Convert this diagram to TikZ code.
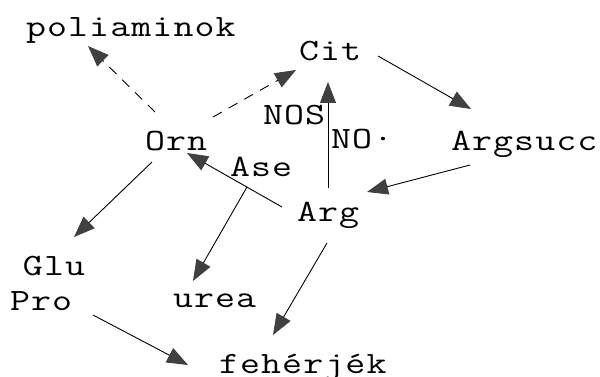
\documentclass[tikz,border=0pt]{standalone}
\usepackage{fontspec}
\usepackage{graphicx}
\usetikzlibrary{arrows.meta}

% wide typewriter labels: letters tracked, then stretched sideways
\newcommand\spacedtext[1]{\spacedloop#1\relax\unkern}
\def\spacedloop#1{\ifx#1\relax\else#1\kern0.9pt\expandafter\spacedloop\fi}
\newcommand\lab[1]{\scalebox{1.25}[1]{\spacedtext{#1}}}

\definecolor{headgray}{gray}{0.25}

\tikzset{
  lbl/.style={anchor=base west, inner sep=0pt, outer sep=0pt,
    font=\ttfamily\fontsize{31}{32}\selectfont},
  conn/.style={line width=0.9pt, black,
    -{Triangle[length=21pt,width=16pt,color=headgray,fill=headgray]}},
  dconn/.style={conn, dash pattern=on 10pt off 8pt},
}

\begin{document}
\begin{tikzpicture}[x=1pt,y=-1pt]
\useasboundingbox (0,0) rectangle (600,377);

% metabolites and enzymes
\node[lbl] (poli) at (26,36.5) {\lab{poliaminok}};
\node[lbl] (cit)  at (299,60.5){\lab{Cit}};
\node[lbl] (orn)  at (145,150) {\lab{Orn}};
\node[lbl] (ase)  at (230,177) {\lab{Ase}};
\node[lbl] (nos)  at (263,125) {\lab{NOS}};
\node[lbl] (no)   at (331,149) {\lab{NO·}};
\node[lbl] (asuc) at (451,150) {\lab{Argsucc}};
\node[lbl] (arg)  at (297,221) {\lab{Arg}};
\node[lbl] (glu)  at (23,275)  {\lab{Glu}};
\node[lbl] (pro)  at (10,310)  {\lab{Pro}};
\node[lbl] (urea) at (173,307) {\lab{urea}};
\node[lbl] (feh)  at (219,373) {\lab{fehérjék}};

% connector end points next to the labels
\coordinate (ornA)  at (155,112);
\coordinate (poliB) at (88,46);
\coordinate (ornB)  at (213,117);
\coordinate (citA)  at (296,70);
\coordinate (citB)  at (378,56);
\coordinate (asucA) at (471,109);
\coordinate (argA)  at (328,188);
\coordinate (citC)  at (328,82);
\coordinate (asucB) at (470,165);
\coordinate (argB)  at (367,192);
\coordinate (argC)  at (282,207);
\coordinate (ornC)  at (187,153);
\coordinate (ornD)  at (152,162);
\coordinate (gluA)  at (74,237);
\coordinate (aseA)  at (247,187);
\coordinate (ureaA) at (193,281);
\coordinate (argD)  at (327,243);
\coordinate (fehA)  at (273,335);
\coordinate (proA)  at (93,315);
\coordinate (fehB)  at (188,365);

% reactions
\draw[dconn] (ornA) -- (poliB);
\draw[dconn] (ornB) -- (citA);
\draw[conn]  (citB) -- (asucA);
\draw[conn]  (argA) -- (citC);
\draw[conn]  (asucB) -- (argB);
\draw[conn]  (argC) -- (ornC);
\draw[conn]  (ornD) -- (gluA);
\draw[conn]  (aseA) -- (ureaA);
\draw[conn]  (argD) -- (fehA);
\draw[conn]  (proA) -- (fehB);
\end{tikzpicture}
\end{document}
